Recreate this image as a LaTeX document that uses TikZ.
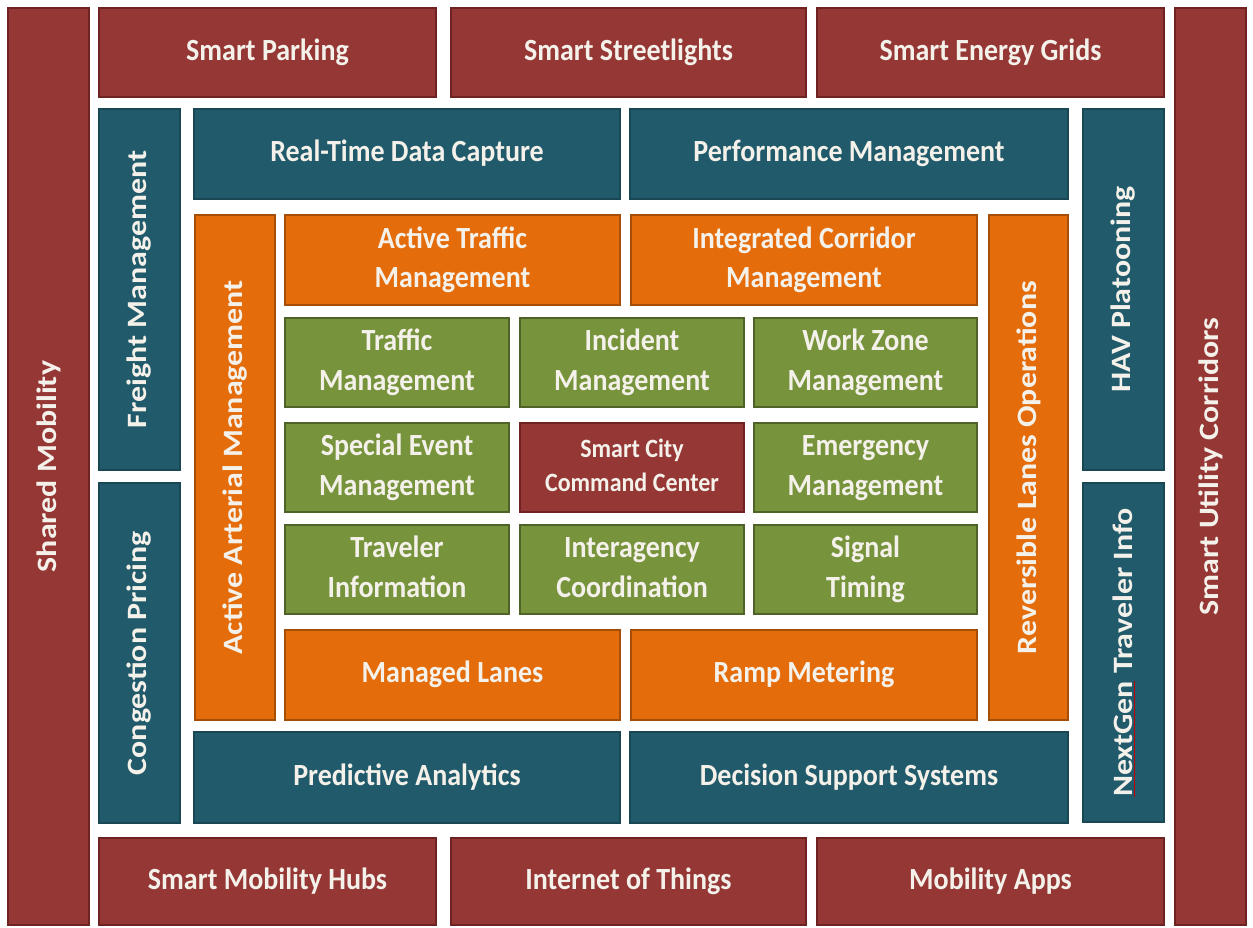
\documentclass[tikz,border=0pt]{standalone}
\usepackage{fontspec}
\usepackage{graphicx}
\setmainfont{Carlito}
\definecolor{cred}{HTML}{953735}
\definecolor{credd}{HTML}{6E2322}
\definecolor{cteal}{HTML}{215A6A}
\definecolor{ctealb}{HTML}{1A4754}
\definecolor{corange}{HTML}{E46C0A}
\definecolor{coranged}{HTML}{A54E07}
\definecolor{cgreen}{HTML}{77933C}
\definecolor{cgreend}{HTML}{4F6228}
\definecolor{ctext}{HTML}{F4F1EA}
\tikzset{
  base/.style={inner sep=0pt, outer sep=0pt, line width=1.6pt, text=ctext, align=center,
    font=\bfseries\fontsize{28}{36}\selectfont},
  redbox/.style={base, fill=cred, draw=credd},
  tealbox/.style={base, fill=cteal, draw=ctealb},
  orangebox/.style={base, fill=corange, draw=coranged},
  greenbox/.style={base, fill=cgreen, draw=cgreend},
}
\newcommand\stackedtext[1]{\begin{tabular}{@{}c@{}}#1\end{tabular}}
% horizontal box: name, x1, y1, x2, y2, style, text
\newcommand\hbx[7]{\node[#6, minimum width={(#4-#2)*1pt}, minimum height={(#5-#3)*1pt}]
  (#1) at ({(#2+#4)/2},{(#3+#5)/2}) {\scalebox{1}[1.1]{\stackedtext{#7}}};}
% vertical box with rotated text
\newcommand\vbx[7]{\node[#6, rotate=90, minimum width={(#5-#3)*1pt}, minimum height={(#4-#2)*1pt}]
  (#1) at ({(#2+#4)/2},{(#3+#5)/2}) {\scalebox{1.14}[1]{#7}};}
\begin{document}
\begin{tikzpicture}[x=1pt,y=-1pt]
\path[fill=white] (0,0) rectangle (1253,927);
\useasboundingbox (0,0) rectangle (1253,927);
% outer ring
\vbx{shared}{8}{8}{89}{925}{redbox}{Shared Mobility}
\vbx{utility}{1175}{8}{1246}{925}{redbox}{Smart Utility Corridors}
\hbx{parking}{99}{8}{436}{97}{redbox}{Smart Parking}
\hbx{street}{451}{8}{806}{97}{redbox}{Smart Streetlights}
\hbx{energy}{817}{8}{1164}{97}{redbox}{Smart Energy Grids}
\hbx{hubs}{99}{838}{436}{925}{redbox}{Smart Mobility Hubs}
\hbx{iot}{451}{838}{806}{925}{redbox}{Internet of Things}
\hbx{apps}{817}{838}{1164}{925}{redbox}{Mobility Apps}
% teal ring
\vbx{freight}{99}{109}{180}{470}{tealbox}{Freight Management}
\vbx{congestion}{99}{483}{180}{823}{tealbox}{Congestion Pricing}
\vbx{hav}{1083}{109}{1164}{470}{tealbox}{HAV Platooning}
\vbx{nextgen}{1083}{483}{1164}{822}{tealbox}{{\color{red!75!black}\underline{\textcolor{ctext}{NextGen}}} Traveler Info}
\hbx{realtime}{194}{109}{620}{199}{tealbox}{Real-Time Data Capture}
\hbx{perf}{630}{109}{1068}{199}{tealbox}{Performance Management}
\hbx{predict}{194}{732}{620}{823}{tealbox}{Predictive Analytics}
\hbx{decision}{630}{732}{1068}{823}{tealbox}{Decision Support Systems}
% orange ring
\vbx{arterial}{195}{215}{275}{720}{orangebox}{Active Arterial Management}
\vbx{reversible}{989}{215}{1068}{720}{orangebox}{Reversible Lanes Operations}
\hbx{atm}{285}{215}{620}{305}{orangebox}{Active Traffic\\Management}
\hbx{icm}{631}{215}{977}{305}{orangebox}{Integrated Corridor\\Management}
\hbx{managed}{285}{630}{620}{720}{orangebox}{Managed Lanes}
\hbx{ramp}{631}{630}{977}{720}{orangebox}{Ramp Metering}
% green core
\hbx{traffic}{285}{318}{509}{407}{greenbox}{Traffic\\Management}
\hbx{incident}{520}{318}{744}{407}{greenbox}{Incident\\Management}
\hbx{workzone}{754}{318}{977}{407}{greenbox}{Work Zone\\Management}
\hbx{special}{285}{423}{509}{512}{greenbox}{Special Event\\Management}
\hbx{command}{520}{423}{744}{512}{redbox, font=\bfseries\fontsize{24}{31}\selectfont}{Smart City\\Command Center}
\hbx{emergency}{754}{423}{977}{512}{greenbox}{Emergency\\Management}
\hbx{traveler}{285}{525}{509}{614}{greenbox}{Traveler\\Information}
\hbx{interagency}{520}{525}{744}{614}{greenbox}{Interagency\\Coordination}
\hbx{signal}{754}{525}{977}{614}{greenbox}{Signal\\Timing}
\end{tikzpicture}
\end{document}
